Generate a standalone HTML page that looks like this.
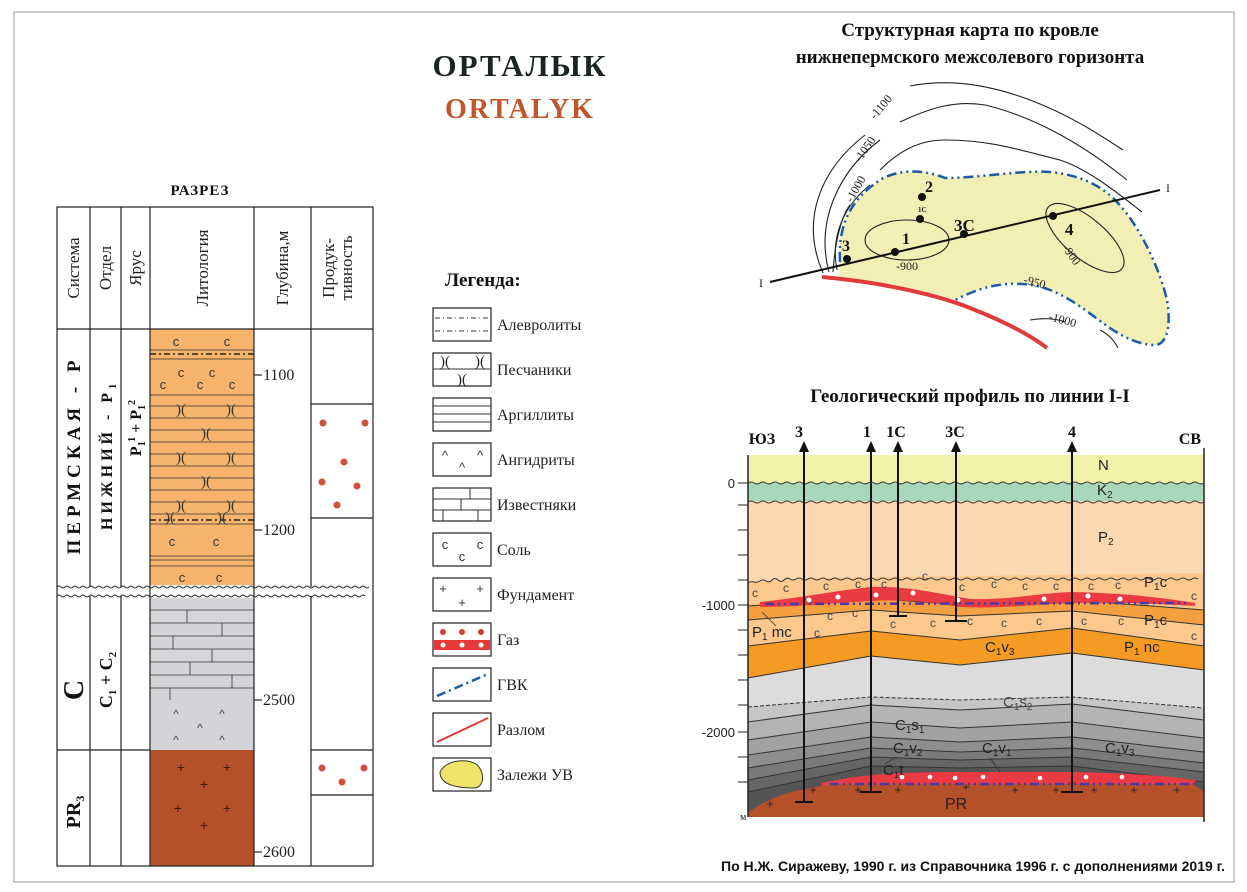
<!DOCTYPE html>
<html><head><meta charset="utf-8"><style>
html,body{margin:0;padding:0;background:#fff;}
svg{display:block;}
.s{font-family:"Liberation Serif","DejaVu Serif",serif;}
.a{font-family:"Liberation Sans","DejaVu Sans",sans-serif;}
</style></head><body>
<svg width="1247" height="892" viewBox="0 0 1247 892" xmlns="http://www.w3.org/2000/svg">
<rect x="14" y="12" width="1220" height="870" fill="#fff" stroke="#999" stroke-width="1"/>

<text x="520" y="76" class="s" font-size="31" font-weight="bold" fill="#1a2420" text-anchor="middle" letter-spacing="2">ОРТАЛЫК</text>
<text x="520" y="118" class="s" font-size="28" font-weight="bold" fill="#c0562a" text-anchor="middle" letter-spacing="2">ORTALYK</text>
<text x="200" y="195" class="s" font-size="15" font-weight="bold" fill="#111" text-anchor="middle" letter-spacing="1">РАЗРЕЗ</text>
<text x="970" y="36" class="s" font-size="19" font-weight="bold" fill="#111" text-anchor="middle">Структурная карта по кровле</text>
<text x="970" y="63" class="s" font-size="19" font-weight="bold" fill="#111" text-anchor="middle">нижнепермского межсолевого горизонта</text>
<text x="970" y="402" class="s" font-size="19" font-weight="bold" fill="#111" text-anchor="middle">Геологический профиль по линии I-I</text>

<g>
<rect x="150" y="329" width="104" height="258" fill="#f7b46c"/>
<rect x="150" y="597" width="104" height="153" fill="#d4d4d8"/>
<rect x="150" y="750" width="104" height="116" fill="#b4502a"/>
<g stroke="#333" stroke-width="0.8">
<line x1="150" y1="350" x2="254" y2="350"/><line x1="150" y1="359" x2="254" y2="359"/>
<line x1="150" y1="395" x2="254" y2="395"/><line x1="150" y1="406" x2="254" y2="406"/>
<line x1="150" y1="418" x2="254" y2="418"/><line x1="150" y1="430" x2="254" y2="430"/>
<line x1="150" y1="442" x2="254" y2="442"/><line x1="150" y1="454" x2="254" y2="454"/>
<line x1="150" y1="466" x2="254" y2="466"/><line x1="150" y1="478" x2="254" y2="478"/>
<line x1="150" y1="490" x2="254" y2="490"/><line x1="150" y1="502" x2="254" y2="502"/>
<line x1="150" y1="514" x2="254" y2="514"/><line x1="150" y1="524" x2="254" y2="524"/>
<line x1="150" y1="556" x2="254" y2="556"/><line x1="150" y1="560" x2="254" y2="560"/><line x1="150" y1="566" x2="254" y2="566"/>
<line x1="150" y1="610" x2="254" y2="610"/><line x1="150" y1="623" x2="254" y2="623"/><line x1="150" y1="636" x2="254" y2="636"/>
<line x1="150" y1="649" x2="254" y2="649"/><line x1="150" y1="662" x2="254" y2="662"/><line x1="150" y1="675" x2="254" y2="675"/><line x1="150" y1="688" x2="254" y2="688"/>
<line x1="187" y1="610" x2="187" y2="623"/><line x1="222" y1="623" x2="222" y2="636"/><line x1="173" y1="636" x2="173" y2="649"/><line x1="212" y1="649" x2="212" y2="662"/><line x1="190" y1="662" x2="190" y2="675"/><line x1="232" y1="675" x2="232" y2="688"/><line x1="170" y1="688" x2="170" y2="700"/>
</g>
<g stroke="#222" stroke-width="1.5" stroke-dasharray="6,3,2,3"><line x1="150" y1="354" x2="254" y2="354"/><line x1="150" y1="520" x2="254" y2="520"/></g>
<g class="a" font-size="13" fill="#333" text-anchor="middle">
<text x="176" y="346">c</text><text x="227" y="346">c</text>
<text x="181" y="377">c</text><text x="212" y="377">c</text><text x="163" y="389">c</text><text x="200" y="389">c</text><text x="232" y="389">c</text>
<text x="172" y="546">c</text><text x="216" y="546">c</text><text x="182" y="582">c</text><text x="219" y="582">c</text>
</g>
<g class="s" font-size="15" fill="#333" text-anchor="middle">
<text x="181" y="414">)(</text><text x="231" y="414">)(</text><text x="206" y="438">)(</text><text x="181" y="462">)(</text><text x="231" y="462">)(</text><text x="206" y="486">)(</text><text x="181" y="510">)(</text><text x="231" y="510">)(</text><text x="170" y="522">)(</text><text x="222" y="522">)(</text>
</g>
<g class="a" font-size="12" fill="#444" text-anchor="middle"><text x="176" y="718">^</text><text x="222" y="718">^</text><text x="200" y="732">^</text><text x="176" y="744">^</text><text x="222" y="744">^</text></g>
<g class="a" font-size="14" fill="#3a1a0a" text-anchor="middle"><text x="181" y="772">+</text><text x="227" y="772">+</text><text x="204" y="789">+</text><text x="178" y="813">+</text><text x="227" y="813">+</text><text x="204" y="830">+</text></g>
<rect x="150" y="585" width="104" height="13" fill="#fff"/>
<g fill="none" stroke="#333" stroke-width="1">
<path d="M57,587 q2,-2 4,0 t4,0 t4,0 t4,0 t4,0 t4,0 t4,0 t4,0 t4,0 t4,0 t4,0 t4,0 t4,0 t4,0 t4,0 t4,0 t4,0 t4,0 t4,0 t4,0 t4,0 t4,0 t4,0 t4,0 t4,0 t4,0 t4,0 t4,0 t4,0 t4,0 t4,0 t4,0 t4,0 t4,0 t4,0 t4,0 t4,0 t4,0 t4,0 t4,0 t4,0 t4,0 t4,0 t4,0 t4,0 t4,0 t4,0 t4,0 t4,0 t4,0 t4,0 t4,0 t4,0 t4,0 t4,0 t4,0 t4,0 t4,0 t4,0 t4,0 t4,0 t4,0 t4,0 t4,0 t4,0 t4,0 t4,0 t4,0 t4,0 t4,0 t4,0 t4,0 t4,0 t4,0 t4,0 t4,0 t4,0 t4,0"/>
<path d="M57,596 q2,-2 4,0 t4,0 t4,0 t4,0 t4,0 t4,0 t4,0 t4,0 t4,0 t4,0 t4,0 t4,0 t4,0 t4,0 t4,0 t4,0 t4,0 t4,0 t4,0 t4,0 t4,0 t4,0 t4,0 t4,0 t4,0 t4,0 t4,0 t4,0 t4,0 t4,0 t4,0 t4,0 t4,0 t4,0 t4,0 t4,0 t4,0 t4,0 t4,0 t4,0 t4,0 t4,0 t4,0 t4,0 t4,0 t4,0 t4,0 t4,0 t4,0 t4,0 t4,0 t4,0 t4,0 t4,0 t4,0 t4,0 t4,0 t4,0 t4,0 t4,0 t4,0 t4,0 t4,0 t4,0 t4,0 t4,0 t4,0 t4,0 t4,0 t4,0 t4,0 t4,0 t4,0 t4,0 t4,0 t4,0 t4,0"/>
</g>
<g stroke="#222" stroke-width="1.2" fill="none">
<rect x="57" y="207" width="316" height="659"/>
<line x1="90" y1="207" x2="90" y2="587"/><line x1="90" y1="596" x2="90" y2="866"/>
<line x1="121" y1="207" x2="121" y2="587"/><line x1="121" y1="596" x2="121" y2="866"/>
<line x1="150" y1="207" x2="150" y2="866"/><line x1="254" y1="207" x2="254" y2="866"/>
<line x1="311" y1="207" x2="311" y2="587"/><line x1="311" y1="596" x2="311" y2="866"/>
<line x1="57" y1="329" x2="373" y2="329"/>
<line x1="57" y1="750" x2="150" y2="750"/><line x1="311" y1="750" x2="373" y2="750"/>
<line x1="311" y1="404" x2="373" y2="404"/><line x1="311" y1="518" x2="373" y2="518"/><line x1="311" y1="795" x2="373" y2="795"/>
<line x1="254" y1="375" x2="262" y2="375"/><line x1="254" y1="530" x2="262" y2="530"/><line x1="254" y1="700" x2="262" y2="700"/><line x1="254" y1="852" x2="262" y2="852"/>
</g>
<g class="s" font-size="16" fill="#222">
<text x="263" y="380">1100</text><text x="263" y="535">1200</text><text x="263" y="705">2500</text><text x="263" y="857">2600</text>
</g>
<g class="s" font-size="17" fill="#222" text-anchor="middle">
<text transform="translate(79,268) rotate(-90)">Система</text>
<text transform="translate(111,268) rotate(-90)">Отдел</text>
<text transform="translate(141,268) rotate(-90)">Ярус</text>
<text transform="translate(208,268) rotate(-90)">Литология</text>
<text transform="translate(288,268) rotate(-90)">Глубина,м</text>
<text transform="translate(334,268) rotate(-90)">Продук-</text>
<text transform="translate(352,268) rotate(-90)">тивность</text>
</g>
<g class="s" font-weight="bold" fill="#111" text-anchor="middle">
<text transform="translate(80,455) rotate(-90)" font-size="19" letter-spacing="5">ПЕРМСКАЯ - Р</text>
<text transform="translate(112,455) rotate(-90)" font-size="16" letter-spacing="4">НИЖНИЙ - P<tspan font-size="10" dy="4">1</tspan></text>
<text transform="translate(141,428) rotate(-90)" font-size="16">P<tspan font-size="10" dy="4">1</tspan><tspan font-size="10" dy="-10">1</tspan><tspan dy="6"> + P</tspan><tspan font-size="10" dy="4">1</tspan><tspan font-size="10" dy="-10">2</tspan></text>
<text transform="translate(83,690) rotate(-90)" font-size="28">С</text>
<text transform="translate(112,680) rotate(-90)" font-size="18">C<tspan font-size="11" dy="4">1</tspan><tspan dy="-4"> + C</tspan><tspan font-size="11" dy="4">2</tspan></text>
<text transform="translate(80,812) rotate(-90)" font-size="20">PR<tspan font-size="12" dy="4">3</tspan></text>
</g>
<g fill="#d0503a"><circle cx="323" cy="423" r="3.5"/><circle cx="365" cy="423" r="3.5"/><circle cx="344" cy="462" r="3.5"/><circle cx="322" cy="482" r="3.5"/><circle cx="357" cy="486" r="3.5"/><circle cx="337" cy="505" r="3.5"/>
<circle cx="322" cy="768" r="3.5"/><circle cx="364" cy="768" r="3.5"/><circle cx="342" cy="782" r="3.5"/></g>
</g>

<text x="445" y="286" class="s" font-size="19" font-weight="bold" fill="#111">Легенда:</text>
<g stroke="#222" stroke-width="1.2" fill="#fff">
<rect x="433" y="308" width="58" height="33"/><rect x="433" y="353" width="58" height="33"/><rect x="433" y="398" width="58" height="33"/><rect x="433" y="443" width="58" height="33"/><rect x="433" y="488" width="58" height="33"/><rect x="433" y="533" width="58" height="33"/><rect x="433" y="578" width="58" height="33"/><rect x="433" y="623" width="58" height="33"/><rect x="433" y="668" width="58" height="33"/><rect x="433" y="713" width="58" height="33"/><rect x="433" y="758" width="58" height="33"/>
</g>
<g stroke="#333" stroke-width="1" fill="none">
<line x1="435" y1="318" x2="489" y2="318" stroke-dasharray="5,3,1,3"/><line x1="435" y1="331" x2="489" y2="331" stroke-dasharray="5,3,1,3"/>
<line x1="433" y1="369" x2="491" y2="369"/>
<line x1="433" y1="406" x2="491" y2="406"/><line x1="433" y1="414" x2="491" y2="414"/><line x1="433" y1="422" x2="491" y2="422"/>
<line x1="433" y1="499" x2="491" y2="499"/><line x1="433" y1="510" x2="491" y2="510"/><line x1="470" y1="488" x2="470" y2="499"/><line x1="461" y1="499" x2="461" y2="510"/><line x1="443" y1="510" x2="443" y2="521"/><line x1="478" y1="510" x2="478" y2="521"/>
</g>
<g class="s" font-size="15" fill="#222" text-anchor="middle"><text x="445" y="366">)(</text><text x="480" y="366">)(</text><text x="462" y="384">)(</text></g>
<g class="a" font-size="13" fill="#333" text-anchor="middle"><text x="445" y="460">^</text><text x="480" y="460">^</text><text x="462" y="472">^</text>
<text x="445" y="549">c</text><text x="480" y="549">c</text><text x="462" y="561">c</text>
<text x="443" y="593">+</text><text x="480" y="593">+</text><text x="462" y="607">+</text></g>
<rect x="434" y="640" width="56" height="10" fill="#e83a3a"/>
<g fill="#d83a3a"><circle cx="443" cy="632" r="3"/><circle cx="462" cy="632" r="3"/><circle cx="481" cy="632" r="3"/></g>
<g fill="#fff"><circle cx="443" cy="645" r="2.5"/><circle cx="462" cy="645" r="2.5"/><circle cx="481" cy="645" r="2.5"/></g>
<line x1="437" y1="696" x2="488" y2="674" stroke="#1a5aa8" stroke-width="2.5" stroke-dasharray="9,4,2,4"/>
<line x1="437" y1="742" x2="488" y2="718" stroke="#e03838" stroke-width="2"/>
<path d="M440,772 C446,760 466,758 476,764 C486,772 484,788 474,788 C460,788 440,786 440,772 Z" fill="#f0e46a" stroke="#333" stroke-width="1"/>
<g class="s" font-size="16" fill="#222">
<text x="497" y="330">Алевролиты</text><text x="497" y="375">Песчаники</text><text x="497" y="420">Аргиллиты</text><text x="497" y="465">Ангидриты</text><text x="497" y="510">Известняки</text><text x="497" y="555">Соль</text><text x="497" y="600">Фундамент</text><text x="497" y="645">Газ</text><text x="497" y="690">ГВК</text><text x="497" y="735">Разлом</text><text x="497" y="780">Залежи УВ</text>
</g>

<g>
<path d="M840,262 C838,225 850,200 880,180 C900,168 925,170 945,178 C980,178 1020,170 1050,172 C1080,175 1100,185 1115,200 C1140,225 1160,270 1167,300 C1172,330 1165,345 1155,345 C1140,345 1125,338 1110,328 C1095,318 1075,300 1050,290 C1030,282 1005,282 985,288 C970,292 960,298 955,300 C920,288 870,280 840,278 Z" fill="#f2efb4"/>
<path d="M840,262 C838,225 850,200 880,180 C900,168 925,170 945,178 C980,178 1020,170 1050,172 C1080,175 1100,185 1115,200 C1140,225 1160,270 1167,300 C1172,330 1165,345 1155,345 C1140,345 1125,338 1110,328 C1095,318 1075,300 1050,290 C1030,282 1005,282 985,288 C970,292 960,298 955,300" fill="none" stroke="#1a5aa8" stroke-width="2.5" stroke-dasharray="10,4,2,4,2,4"/>
<g fill="none" stroke="#222" stroke-width="1.1">
<path d="M833,272 C835,240 842,215 850,205"/>
<path d="M837,270 C830,235 845,205 870,185"/>
<path d="M880,170 C900,150 920,140 945,140 C990,140 1020,150 1060,160 C1090,170 1120,195 1142,212"/>
<path d="M829,272 C815,220 840,170 880,140"/>
<path d="M900,122 C930,108 955,100 985,105 C1040,118 1090,150 1127,180"/>
<path d="M823,273 C800,220 820,170 865,135"/>
<path d="M910,86 C950,78 990,85 1030,100 C1070,115 1100,135 1123,150"/>
<ellipse cx="907" cy="240" rx="42" ry="20"/>
<ellipse cx="1085" cy="238" rx="48" ry="20" transform="rotate(40 1085 238)"/>
<path d="M1030,320 C1040,318 1055,318 1065,322"/>
<path d="M1100,330 C1110,335 1115,342 1118,348"/>
</g>
<path d="M822,277 C880,282 940,295 975,310 C1005,322 1030,335 1047,348" fill="none" stroke="#e23a3a" stroke-width="4"/>
<line x1="770" y1="282" x2="1160" y2="190" stroke="#111" stroke-width="2"/>
<g fill="#111"><circle cx="847" cy="259" r="4"/><circle cx="895" cy="252" r="4"/><circle cx="920" cy="219" r="4"/><circle cx="922" cy="197" r="4"/><circle cx="964" cy="234" r="4"/><circle cx="1053" cy="216" r="4"/></g>
<g class="s" font-weight="bold" fill="#111">
<text x="842" y="251" font-size="16">3</text><text x="902" y="244" font-size="16">1</text><text x="918" y="212" font-size="7">1C</text><text x="925" y="192" font-size="16">2</text><text x="954" y="231" font-size="17">3C</text><text x="1065" y="235" font-size="17">4</text>
</g>
<g class="s" font-size="12" fill="#222">
<text x="759" y="287">I</text><text x="1166" y="192">I</text>
<text x="896" y="270">-900</text>
<text transform="translate(1062,248) rotate(55)">-900</text>
<text transform="translate(1023,283) rotate(15)">-950</text>
<text transform="translate(1048,320) rotate(15)">-1000</text>
<text transform="translate(852,203) rotate(-60)">-1000</text>
<text transform="translate(860,163) rotate(-55)">-1050</text>
<text transform="translate(875,120) rotate(-50)">-1100</text>
</g>
</g>

<g>
<rect x="748" y="455" width="456" height="30" fill="#f3f0aa"/>
<rect x="748" y="483" width="456" height="20" fill="#a8d8bc"/>
<rect x="748" y="501" width="456" height="316" fill="#fbd8b2"/>
<path d="M748,583 L800,578 L1204,573 L1204,817 L748,817Z" fill="#fcc88e"/>
<path d="M748,606 L871,598 L960,605 L1072,600 L1204,610 L1204,817 L748,817Z" fill="#f5a040"/>
<path d="M748,620 L871,610 L960,616 L1072,611 L1204,625 L1204,817 L748,817Z" fill="#fcc88e"/>
<path d="M748,646 L871,631 L960,640 L1072,628 L1204,646 L1204,817 L748,817Z" fill="#f59a22"/>
<path d="M748,678 L871,656 L960,665 L1072,653 L1204,670 L1204,817 L748,817Z" fill="#dcdcdc"/>
<path d="M748,707 L871,697 L960,700 L1072,697 L1204,708 L1204,817 L748,817Z" fill="#c6c6c6"/>
<path d="M748,722 L871,705 L960,710 L1072,704 L1204,720 L1204,817 L748,817Z" fill="#b4b4b4"/>
<path d="M748,740 L871,722 L960,728 L1072,722 L1204,738 L1204,817 L748,817Z" fill="#a2a2a2"/>
<path d="M748,755 L871,737 L960,742 L1072,737 L1204,752 L1204,817 L748,817Z" fill="#8e8e8e"/>
<path d="M748,768 L871,748 L960,752 L1072,748 L1204,763 L1204,817 L748,817Z" fill="#7a7a7a"/>
<path d="M748,780 L871,757 L960,760 L1072,757 L1204,772 L1204,817 L748,817Z" fill="#666"/>
<path d="M748,792 L871,766 L960,768 L1072,766 L1204,782 L1204,817 L748,817Z" fill="#555"/>
<g fill="none" stroke="#333" stroke-width="1">
<path d="M748,606 L871,598 L960,605 L1072,600 L1204,610"/>
<path d="M748,620 L871,610 L960,616 L1072,611 L1204,625"/>
<path d="M748,646 L871,631 L960,640 L1072,628 L1204,646"/>
<path d="M748,678 L871,656 L960,665 L1072,653 L1204,670"/>
<path d="M748,722 L871,705 L960,710 L1072,704 L1204,720"/>
<path d="M748,740 L871,722 L960,728 L1072,722 L1204,738"/>
<path d="M748,755 L871,737 L960,742 L1072,737 L1204,752"/>
<path d="M748,768 L871,748 L960,752 L1072,748 L1204,763"/>
<path d="M748,780 L871,757 L960,760 L1072,757 L1204,772"/>
<path d="M748,792 L871,766 L960,768 L1072,766 L1204,782"/>
<path d="M748,483 q3,-2 6,0 t6,0 t6,0 t6,0 t6,0 t6,0 t6,0 t6,0 t6,0 t6,0 t6,0 t6,0 t6,0 t6,0 t6,0 t6,0 t6,0 t6,0 t6,0 t6,0 t6,0 t6,0 t6,0 t6,0 t6,0 t6,0 t6,0 t6,0 t6,0 t6,0 t6,0 t6,0 t6,0 t6,0 t6,0 t6,0 t6,0 t6,0 t6,0 t6,0 t6,0 t6,0 t6,0 t6,0 t6,0 t6,0 t6,0 t6,0 t6,0 t6,0 t6,0 t6,0 t6,0 t6,0 t6,0 t6,0 t6,0 t6,0 t6,0 t6,0 t6,0 t6,0 t6,0 t6,0 t6,0 t6,0 t6,0 t6,0 t6,0 t6,0 t6,0 t6,0 t6,0 t6,0 t6,0 t6,0"/>
<path d="M748,502 q3,-2 6,0 t6,0 t6,0 t6,0 t6,0 t6,0 t6,0 t6,0 t6,0 t6,0 t6,0 t6,0 t6,0 t6,0 t6,0 t6,0 t6,0 t6,0 t6,0 t6,0 t6,0 t6,0 t6,0 t6,0 t6,0 t6,0 t6,0 t6,0 t6,0 t6,0 t6,0 t6,0 t6,0 t6,0 t6,0 t6,0 t6,0 t6,0 t6,0 t6,0 t6,0 t6,0 t6,0 t6,0 t6,0 t6,0 t6,0 t6,0 t6,0 t6,0 t6,0 t6,0 t6,0 t6,0 t6,0 t6,0 t6,0 t6,0 t6,0 t6,0 t6,0 t6,0 t6,0 t6,0 t6,0 t6,0 t6,0 t6,0 t6,0 t6,0 t6,0 t6,0 t6,0 t6,0 t6,0 t6,0"/>
<path d="M748,583 q3,-2 6,-1 t6,-1 t6,0 t6,-1 t6,0 t6,0 t6,-1 t6,0 t6,0 t6,0 t6,0 t6,0 t6,0 t6,0 t6,0 t6,0 t6,0 t6,0 t6,0 t6,0 t6,0 t6,0 t6,0 t6,0 t6,0 t6,0 t6,0 t6,0 t6,0 t6,0 t6,0 t6,0 t6,0 t6,0 t6,0 t6,0 t6,0 t6,0 t6,0 t6,0 t6,0 t6,0 t6,0 t6,0 t6,0 t6,0 t6,0 t6,0 t6,0 t6,0 t6,0 t6,0 t6,0 t6,0 t6,0 t6,0 t6,0 t6,0 t6,0 t6,0 t6,0 t6,0 t6,0 t6,0 t6,0 t6,0 t6,0 t6,0 t6,0 t6,0 t6,0 t6,0 t6,0 t6,0 t6,0"/>
<path d="M748,707 L871,697 L960,700 L1072,697 L1204,708" stroke-dasharray="4,2"/>
</g>
<path d="M760,602 C800,598 840,590 871,587 C910,586 940,594 970,599 C1010,600 1040,593 1072,592 C1120,593 1160,597 1195,603 L1195,606 C1160,604 1110,602 1072,603 C1040,604 1000,609 960,607 C930,602 900,599 871,601 C830,603 800,607 760,607 Z" fill="#ea3a42"/>
<path d="M765,604 L1190,603" stroke="#4a3aa8" stroke-width="2.5" stroke-dasharray="9,4,2,4,2,4"/>
<g fill="#fff"><circle cx="809" cy="600" r="2.5"/><circle cx="838" cy="597" r="2.5"/><circle cx="876" cy="595" r="2.5"/><circle cx="913" cy="593" r="2.5"/><circle cx="958" cy="600" r="2.5"/><circle cx="1044" cy="599" r="2.5"/><circle cx="1088" cy="596" r="2.5"/><circle cx="1120" cy="599" r="2.5"/></g>
<path d="M822,783 C850,777 880,772 960,772 C1050,772 1120,770 1195,780 L1195,787 L822,787 Z" fill="#ea3a42"/>
<path d="M748,812 C760,805 775,795 800,790 C820,786 830,784 860,784 L1190,784 C1198,786 1202,790 1204,793 L1204,817 L748,817Z" fill="#b4502a"/>
<path d="M830,784 L1195,784" stroke="#4a3aa8" stroke-width="2.5" stroke-dasharray="9,4,2,4,2,4"/>
<g fill="#fff"><circle cx="902" cy="777" r="2.3"/><circle cx="930" cy="777" r="2.3"/><circle cx="955" cy="778" r="2.3"/><circle cx="983" cy="777" r="2.3"/><circle cx="1040" cy="778" r="2.3"/><circle cx="1086" cy="777" r="2.3"/><circle cx="1122" cy="777" r="2.3"/></g>
<g class="a" font-size="12" fill="#222" text-anchor="middle"><text x="770" y="808">+</text><text x="858" y="794">+</text><text x="898" y="794">+</text><text x="966" y="791">+</text><text x="1015" y="794">+</text><text x="1056" y="794">+</text><text x="1094" y="794">+</text><text x="1134" y="794">+</text><text x="1177" y="794">+</text><text x="813" y="794">+</text></g>
<g class="a" font-size="12" fill="#444" text-anchor="middle">
<text x="755" y="597">c</text><text x="786" y="592">c</text><text x="826" y="590">c</text><text x="858" y="588">c</text><text x="884" y="588">c</text><text x="925" y="580">c</text><text x="962" y="591">c</text><text x="994" y="588">c</text><text x="1025" y="590">c</text><text x="1056" y="590">c</text><text x="1091" y="590">c</text><text x="1118" y="589">c</text><text x="1194" y="600">c</text>
<text x="830" y="620">c</text><text x="855" y="617">c</text><text x="817" y="637">c</text><text x="893" y="628">c</text><text x="933" y="627">c</text><text x="970" y="625">c</text><text x="1004" y="627">c</text><text x="1039" y="625">c</text><text x="1084" y="625">c</text><text x="1121" y="625">c</text><text x="1194" y="640">c</text>
</g>
<g stroke="#111" stroke-width="2">
<line x1="804" y1="448" x2="804" y2="802"/><line x1="795" y1="802" x2="813" y2="802"/>
<line x1="871" y1="448" x2="871" y2="792"/><line x1="860" y1="792" x2="882" y2="792"/>
<line x1="898" y1="448" x2="898" y2="616"/><line x1="889" y1="616" x2="907" y2="616"/>
<line x1="956" y1="448" x2="956" y2="621"/><line x1="945" y1="621" x2="967" y2="621"/>
<line x1="1072" y1="448" x2="1072" y2="792"/><line x1="1061" y1="792" x2="1083" y2="792"/>
</g>
<g fill="#111"><path d="M799,452 L804,441 L809,452Z"/><path d="M866,452 L871,441 L876,452Z"/><path d="M893,452 L898,441 L903,452Z"/><path d="M951,452 L956,441 L961,452Z"/><path d="M1067,452 L1072,441 L1077,452Z"/></g>
<g stroke="#222" stroke-width="1.5"><line x1="748" y1="455" x2="748" y2="817"/><line x1="1204" y1="448" x2="1204" y2="822"/></g>
<g stroke="#222" stroke-width="1"><line x1="738" y1="483" x2="748" y2="483"/><line x1="738" y1="505" x2="748" y2="505"/><line x1="738" y1="530" x2="748" y2="530"/><line x1="738" y1="555" x2="748" y2="555"/><line x1="738" y1="580" x2="748" y2="580"/><line x1="738" y1="605" x2="748" y2="605"/><line x1="738" y1="630" x2="748" y2="630"/><line x1="738" y1="655" x2="748" y2="655"/><line x1="738" y1="680" x2="748" y2="680"/><line x1="738" y1="705" x2="748" y2="705"/><line x1="738" y1="732" x2="748" y2="732"/><line x1="738" y1="757" x2="748" y2="757"/><line x1="738" y1="782" x2="748" y2="782"/></g>
<g class="a" font-size="13" fill="#222" text-anchor="end"><text x="735" y="488">0</text><text x="735" y="610">-1000</text><text x="735" y="737">-2000</text></g>
<text x="740" y="820" class="s" font-size="10" fill="#222">м</text>
<g class="s" font-weight="bold" font-size="16" fill="#111" text-anchor="middle">
<text x="799" y="437">3</text><text x="867" y="437">1</text><text x="896" y="437">1С</text><text x="955" y="437">3С</text><text x="1072" y="437">4</text>
<text x="762" y="444">ЮЗ</text><text x="1190" y="444">СВ</text>
</g>
<g class="a" font-size="15" fill="#222">
<text x="1098" y="470">N</text>
<text x="1097" y="495">K<tspan font-size="10" dy="3">2</tspan></text>
<text x="1098" y="542">P<tspan font-size="10" dy="3">2</tspan></text>
<text x="1144" y="587">P<tspan font-size="10" dy="3">1</tspan><tspan dy="-3">c</tspan></text>
<text x="1144" y="625">P<tspan font-size="10" dy="3">1</tspan><tspan dy="-3">c</tspan></text>
<text x="752" y="637">P<tspan font-size="10" dy="3">1</tspan><tspan dy="-3"> mc</tspan></text>
<text x="985" y="652">C<tspan font-size="10" dy="3">1</tspan><tspan dy="-3">v</tspan><tspan font-size="10" dy="3">3</tspan></text>
<text x="1124" y="652">P<tspan font-size="10" dy="3">1</tspan><tspan dy="-3"> nc</tspan></text>
<text x="1003" y="707" fill="#444">C<tspan font-size="10" dy="3">1</tspan><tspan dy="-3">s</tspan><tspan font-size="10" dy="3">2</tspan></text>
<text x="895" y="730">C<tspan font-size="10" dy="3">1</tspan><tspan dy="-3">s</tspan><tspan font-size="10" dy="3">1</tspan></text>
<text x="893" y="753">C<tspan font-size="10" dy="3">1</tspan><tspan dy="-3">v</tspan><tspan font-size="10" dy="3">2</tspan></text>
<text x="982" y="753">C<tspan font-size="10" dy="3">1</tspan><tspan dy="-3">v</tspan><tspan font-size="10" dy="3">1</tspan></text>
<text x="1105" y="753">C<tspan font-size="10" dy="3">1</tspan><tspan dy="-3">v</tspan><tspan font-size="10" dy="3">3</tspan></text>
<text x="883" y="775">C<tspan font-size="10" dy="3">1</tspan><tspan dy="-3">t</tspan></text>
<text x="945" y="809" font-size="16">PR</text>
</g>
<g stroke="#333" stroke-width="0.8"><line x1="762" y1="612" x2="776" y2="626"/><line x1="885" y1="764" x2="896" y2="757"/><line x1="990" y1="758" x2="1000" y2="772"/></g>
</g>

<text x="1225" y="871" class="a" font-size="14" font-weight="bold" fill="#111" text-anchor="end">По Н.Ж. Сиражеву, 1990 г. из Справочника 1996 г. с дополнениями 2019 г.</text>
</svg>
</body></html>
